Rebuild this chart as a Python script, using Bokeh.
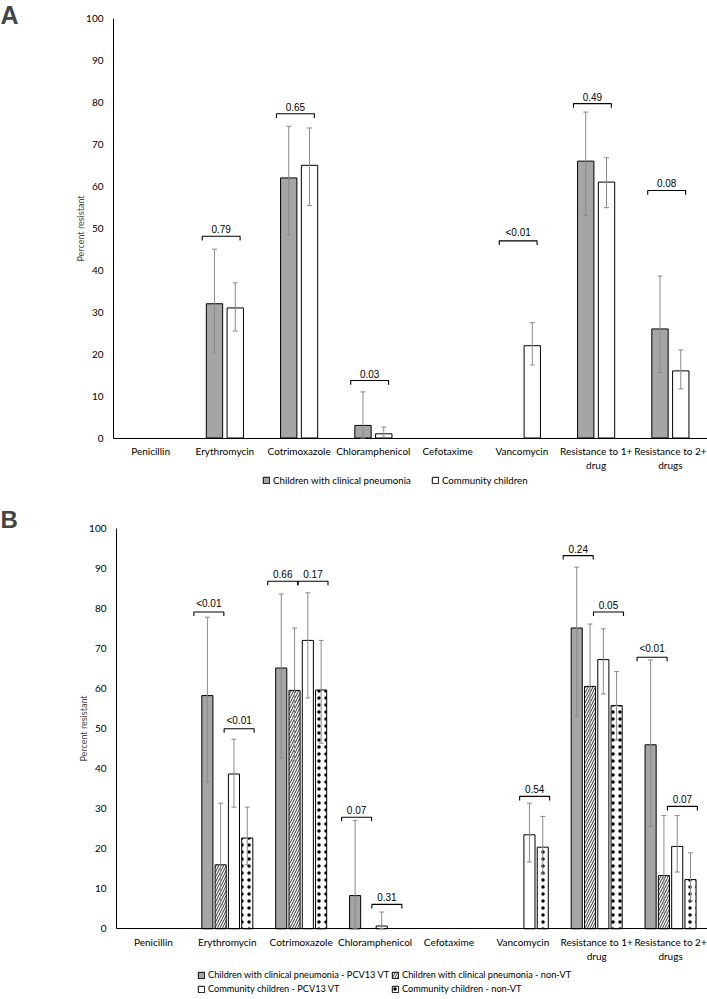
import math
from bokeh.plotting import figure
from bokeh.models import (Range1d, FixedTicker, Whisker, TeeHead,
                          ColumnDataSource, Legend, LegendItem, Label)
from bokeh.transform import dodge
from bokeh.layouts import column
from bokeh.embed import file_html
from bokeh.resources import INLINE
from bokeh.core.properties import value

NaN = float("nan")

categories = ["Penicillin", "Erythromycin", "Cotrimoxazole", "Chloramphenicol",
              "Cefotaxime", "Vancomycin", "Resistance to 1+\ndrug",
              "Resistance to 2+\ndrugs"]
y_ticks = [0, 10, 20, 30, 40, 50, 60, 70, 80, 90, 100]

# ---------------- Panel A ----------------
a_pneu = [0, 32, 62, 3, 0, 0, 66, 26]
a_pneu_lo = [NaN, 20.5, 48.5, 0, NaN, NaN, 53, 15.6]
a_pneu_hi = [NaN, 45, 74.3, 11, NaN, NaN, 77.7, 38.6]
a_comm = [0, 31, 65, 1, 0, 22, 61, 16]
a_comm_lo = [NaN, 25.5, 55.4, 0.2, NaN, 17.4, 54.9, 11.7]
a_comm_hi = [NaN, 37, 73.9, 2.6, NaN, 27.5, 66.8, 21]

a_p_cats = ["Erythromycin", "Cotrimoxazole", "Chloramphenicol", "Vancomycin",
            "Resistance to 1+\ndrug", "Resistance to 2+\ndrugs"]
a_p_text = ["0.79", "0.65", "0.03", "<0.01", "0.49", "0.08"]
a_p_y = [48.1, 77.3, 13.7, 47.0, 79.7, 59.0]

# ---------------- Panel B ----------------
b_pneu_vt = [0, 58.3, 65.2, 8.3, 0, 0, 75.2, 46.0]
b_pneu_vt_lo = [NaN, 36.7, 42.7, 0, NaN, NaN, 53.3, 25.6]
b_pneu_vt_hi = [NaN, 77.9, 83.7, 27.1, NaN, NaN, 90.4, 67.2]
b_pneu_nvt = [0, 16.0, 59.6, 0, 0, 0, 60.6, 13.3]
b_pneu_nvt_lo = [NaN, 6, 42.1, NaN, NaN, NaN, 43.9, 4]
b_pneu_nvt_hi = [NaN, 31.4, 75.2, NaN, NaN, NaN, 76.2, 28.3]
b_comm_vt = [0, 38.7, 72.1, 0.7, 0, 23.5, 67.3, 20.6]
b_comm_vt_lo = [NaN, 30.4, 57.7, 0, NaN, 16.7, 58.7, 14.2]
b_comm_vt_hi = [NaN, 47.4, 84.0, 4.2, NaN, 31.4, 75.0, 28.3]
b_comm_nvt = [0, 22.7, 59.7, 0, 0, 20.4, 55.8, 12.3]
b_comm_nvt_lo = [NaN, 16.0, 46.4, NaN, NaN, 13.7, 47.2, 7]
b_comm_nvt_hi = [NaN, 30.4, 72.1, NaN, NaN, 28.1, 64.3, 19.0]

# which pair: 0 = pneumonia pair (VT vs non-VT), 1 = community pair
b_p_cats = ["Erythromycin", "Erythromycin", "Cotrimoxazole", "Cotrimoxazole",
            "Chloramphenicol", "Chloramphenicol", "Vancomycin",
            "Resistance to 1+\ndrug", "Resistance to 1+\ndrug",
            "Resistance to 2+\ndrugs", "Resistance to 2+\ndrugs"]
b_p_pair = [0, 1, 0, 1, 0, 1, 1, 0, 1, 0, 1]
b_p_text = ["<0.01", "<0.01", "0.66", "0.17", "0.07", "0.31", "0.54",
            "0.24", "0.05", "<0.01", "0.07"]
b_p_y = [79.2, 50.0, 86.9, 86.9, 27.9, 6.1, 33.1, 93.3, 79.2, 67.9, 30.6]

GRAY = "#a5a5a5"
ERR = "#8a8a8a"
FONT = "Lato"
PFONT = "Liberation Sans"
N = len(categories)
W = 707


def make_fig(height, x0, y0, y1):
    p = figure(x_range=Range1d(x0, N - 0.5), y_range=Range1d(y0, y1),
               width=W, height=height, output_backend="svg",
               toolbar_location=None, min_border=0, min_border_left=0,
               min_border_right=0, min_border_top=0, min_border_bottom=0)
    p.outline_line_color = None
    p.xgrid.visible = False
    p.ygrid.visible = False
    p.xaxis.fixed_location = 0
    p.yaxis.fixed_location = -0.5
    p.xaxis.bounds = (-0.5, N - 0.5)
    p.yaxis.bounds = (0, 100)
    p.yaxis.ticker = FixedTicker(ticks=y_ticks)
    p.xaxis.ticker = FixedTicker(ticks=list(range(N)))
    p.xaxis.major_label_overrides = {i: c for i, c in enumerate(categories)}
    for ax in (p.xaxis[0], p.yaxis[0]):
        ax.major_tick_line_color = None
        ax.minor_tick_line_color = None
        ax.major_tick_out = 0
        ax.major_tick_in = 0
        ax.minor_tick_out = 0
        ax.minor_tick_in = 0
        ax.axis_line_color = "black"
        ax.axis_line_width = 1
        ax.major_label_text_font = FONT
        ax.major_label_text_font_size = "10px"
        ax.major_label_text_color = "black"
    p.yaxis.major_label_standoff = 10
    p.xaxis.major_label_standoff = 7
    p.yaxis.axis_label = "Percent resistant"
    p.yaxis.axis_label_text_font = FONT
    p.yaxis.axis_label_text_font_size = "9px"
    p.yaxis.axis_label_text_font_style = "normal"
    p.yaxis.axis_label_standoff = -3
    return p


def add_series(p, vals, lo, hi, offset, width, style):
    idx = [i for i, v in enumerate(vals) if v > 0]
    src = ColumnDataSource(dict(x=idx, top=[vals[i] for i in idx]))
    r = p.vbar(x=dodge("x", offset), top="top", width=width, source=src,
               line_color="black", line_width=1, **style)
    eidx = [i for i in range(len(vals)) if not math.isnan(lo[i])]
    esrc = ColumnDataSource(dict(x=eidx, lo=[lo[i] for i in eidx],
                                 hi=[hi[i] for i in eidx]))
    w = Whisker(base=dodge("x", offset), lower="lo", upper="hi",
                source=esrc, dimension="height", line_color=ERR, line_width=1,
                upper_head=TeeHead(size=5, line_color=ERR, line_width=1),
                lower_head=TeeHead(size=5, line_color=ERR, line_width=1),
                level="annotation")
    p.add_layout(w)
    return r


def add_brackets(p, cats, offs, half, ys, texts, tick):
    xs, yss, cx = [], [], []
    for cat, off, y in zip(cats, offs, ys):
        c = categories.index(cat) + off
        cx.append(c)
        xs.append([c - half, c - half, c + half, c + half])
        yss.append([y - tick, y, y, y - tick])
    p.multi_line(xs, yss, line_color="black", line_width=1.1)
    p.text(x=cx, y=ys, text=texts, text_align="center", text_baseline="bottom",
           y_offset=-3, text_font=value(PFONT), text_font_size="10px",
           text_color="black")


def add_legend(p, label, r, x, y, size):
    lg = Legend(items=[LegendItem(label=label, renderers=[r])], location=(x, y),
                orientation="horizontal", padding=0, margin=0, spacing=0,
                glyph_width=8, glyph_height=8, label_height=10, label_standoff=3,
                label_text_font=FONT, label_text_font_size=size,
                label_text_color="black",
                border_line_alpha=0, background_fill_alpha=0)
    p.add_layout(lg)


# ---------- Panel A figure (page y 0..498) ----------
HA = 498
pa = make_fig(HA, -0.5 - 113 / 74.25, -(HA - 437.5) / 4.195, 100 + 18 / 4.195)
ra1 = add_series(pa, a_pneu, a_pneu_lo, a_pneu_hi, -0.14, 0.22,
                 dict(fill_color=GRAY))
ra2 = add_series(pa, a_comm, a_comm_lo, a_comm_hi, 0.14, 0.22,
                 dict(fill_color="white"))
add_brackets(pa, a_p_cats, [-0.05] * len(a_p_cats), 0.255, a_p_y, a_p_text, 1.0)
add_legend(pa, "Children with clinical pneumonia", ra1, 262, 12, "9.7px")
add_legend(pa, "Community children", ra2, 431, 12, "9.7px")
pa.add_layout(Label(x=0, y=HA, x_units="screen", y_units="screen", text="A",
                    text_font=PFONT, text_font_style="bold", text_font_size="25px",
                    text_baseline="top", text_align="left"))

# ---------- Panel B figure (page y 498..999) ----------
HB = 501
pb = make_fig(HB, -0.5 - 116 / 73.875, -(999 - 928.3) / 4.0, 100 + (528.3 - 498) / 4.0)
rb1 = add_series(pb, b_pneu_vt, b_pneu_vt_lo, b_pneu_vt_hi, -0.27, 0.15,
                 dict(fill_color=GRAY))
rb2 = add_series(pb, b_pneu_nvt, b_pneu_nvt_lo, b_pneu_nvt_hi, -0.09, 0.15,
                 dict(fill_color="white", hatch_pattern="/", hatch_color="black",
                      hatch_scale=5, hatch_weight=0.8))
rb3 = add_series(pb, b_comm_vt, b_comm_vt_lo, b_comm_vt_hi, 0.09, 0.15,
                 dict(fill_color="white"))
rb4 = add_series(pb, b_comm_nvt, b_comm_nvt_lo, b_comm_nvt_hi, 0.27, 0.15,
                 dict(fill_color="white", hatch_pattern=".", hatch_color="black",
                      hatch_scale=7, hatch_weight=0.6))
b_offs = [-0.25 if pr == 0 else 0.16 for pr in b_p_pair]
add_brackets(pb, b_p_cats, b_offs, 0.203, b_p_y, b_p_text, 1.0)
add_legend(pb, "Children with clinical pneumonia - PCV13 VT", rb1, 197, 19, "9.2px")
add_legend(pb, "Children with clinical pneumonia - non-VT", rb2, 391, 19, "9.2px")
add_legend(pb, "Community children - PCV13 VT", rb3, 197, 5, "9.2px")
add_legend(pb, "Community children - non-VT", rb4, 391, 5, "9.2px")
pb.add_layout(Label(x=0, y=HB - 7, x_units="screen", y_units="screen", text="B",
                    text_font=PFONT, text_font_style="bold", text_font_size="24px",
                    text_baseline="top", text_align="left"))

layout = column(pa, pb)
open("out.html", "w").write(file_html(layout, INLINE))
